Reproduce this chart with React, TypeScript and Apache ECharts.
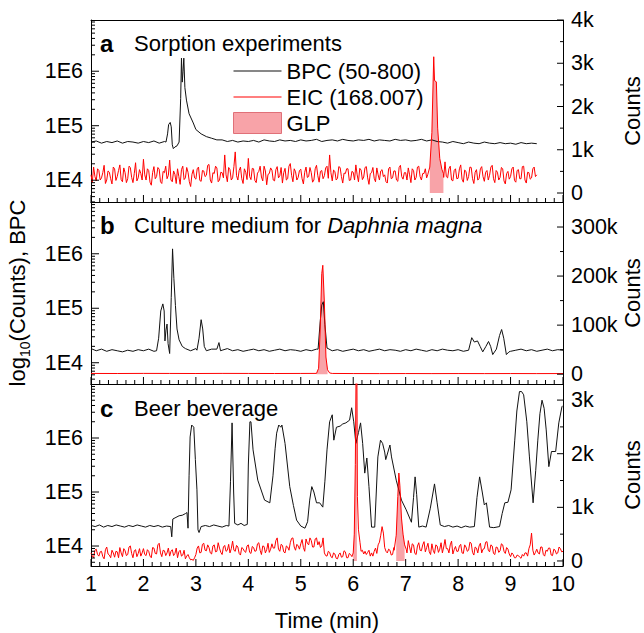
import React, { useEffect, useRef } from 'react';
import * as echarts from 'echarts';

const FONT = "'Liberation Sans', Arial, Helvetica, sans-serif";
const BLACK = '#111111';
const RED = '#ff0000';
const PINK = '#f8a3a8';
const LINE_ICON = 'path://M0,0h48v1.2h-48z';

// ---------- data ----------
const panelTitles = ['Sorption experiments', 'Culture medium for ', 'Beer beverage'];
const panelLetters = ['a', 'b', 'c'];
const legendNames = ['BPC (50-800)', 'EIC (168.007)', 'GLP'];

// BPC (log10 counts), panel a: baseline sampled every 0.1 min from 1.0 to 9.5
const bpcABase = [
  4.70, 4.72, 4.68, 4.71, 4.69, 4.72, 4.68, 4.71, 4.70, 4.68,
  4.71, 4.69, 4.72, 4.68, 4.71, 4.70, 4.70, 4.70, 4.70, 4.70,
  4.93, 4.85, 4.80, 4.77, 4.74, 4.74, 4.71, 4.73, 4.70, 4.72,
  4.71, 4.73, 4.70, 4.74, 4.72, 4.71, 4.74, 4.72, 4.73, 4.71,
  4.74, 4.72, 4.73, 4.75, 4.71, 4.73, 4.74, 4.72, 4.75, 4.73,
  4.72, 4.74, 4.73, 4.75, 4.72, 4.74, 4.73, 4.72, 4.75, 4.73,
  4.74, 4.72, 4.73, 4.75, 4.72, 4.74, 4.71, 4.70, 4.68, 4.71,
  4.69, 4.67, 4.70, 4.68, 4.67, 4.70, 4.68, 4.67, 4.69, 4.67,
  4.68, 4.66, 4.69, 4.67, 4.68, 4.67,
];
const bpcAPeaks = [
  [[2.43, 4.70], [2.46, 4.85], [2.48, 5.02], [2.51, 5.06], [2.53, 4.98], [2.55, 4.65], [2.57, 4.58],
   [2.60, 4.61], [2.64, 4.63], [2.68, 4.70], [2.71, 5.5], [2.725, 6.24], [2.74, 5.8], [2.755, 6.0],
   [2.77, 6.24], [2.79, 5.7], [2.82, 5.47], [2.87, 5.22], [2.95, 5.05]],
];

// EIC (counts), panel a: every 0.025 min from 1.000 to 9.500
const eicAValues = [
  420, 250, 600, 380, 280, 560, 520, 300, 350, 470, 640, 220, 300, 510, 480, 330, 210, 600, 560, 290,
  380, 520, 650, 310, 260, 580, 470, 240, 330, 620, 590, 360, 240, 450, 700, 280, 350, 540, 450, 300,
  780, 420, 300, 560, 520, 250, 180, 470, 610, 330, 380, 590, 550, 260, 220, 500, 470, 620, 330, 410,
  760, 300, 260, 510, 430, 220, 560, 380, 200, 540, 620, 310, 350, 590, 480, 260, 150, 430, 540, 350,
  320, 560, 600, 290, 270, 520, 510, 380, 410, 640, 660, 300, 230, 470, 450, 620, 580, 260, 300, 480,
  470, 350, 880, 420, 260, 590, 540, 300, 350, 610, 950, 400, 300, 520, 600, 330, 220, 560, 480, 310,
  800, 380, 310, 570, 560, 290, 240, 460, 500, 620, 370, 280, 620, 510, 190, 430, 450, 580, 530, 300,
  280, 540, 610, 350, 400, 590, 230, 470, 570, 300, 330, 620, 680, 410, 260, 560, 490, 300, 360, 520,
  550, 330, 210, 480, 600, 360, 380, 590, 470, 250, 300, 560, 640, 400, 250, 500, 520, 330, 400, 580,
  620, 340, 880, 470, 280, 530, 500, 300, 340, 610, 590, 380, 230, 460, 450, 560, 560, 290, 300, 500,
  480, 300, 650, 420, 260, 570, 530, 310, 370, 590, 610, 350, 200, 450, 470, 590, 340, 260, 580, 420,
  300, 510, 540, 380, 420, 260, 230, 560, 600, 330, 350, 510, 510, 300, 270, 590, 640, 380, 320, 470,
  470, 300, 580, 420, 240, 560, 520, 300, 360, 600, 620, 380, 300, 450, 450, 560, 350, 300, 480, 420,
  420, 560, 480, 300, 520, 610, 380, 450, 520, 360, 720, 380, 350, 560, 620, 300, 280, 520, 560, 330,
  340, 560, 650, 320, 250, 530, 500, 290, 380, 600, 590, 330, 220, 480, 540, 300, 330, 560, 610, 380,
  270, 480, 520, 300, 410, 600, 640, 330, 240, 520, 480, 300, 360, 590, 560, 280, 210, 450, 500, 320,
  380, 560, 600, 290, 250, 520, 540, 330, 330, 610, 620, 300, 230, 480, 470, 320, 350, 560, 600, 380,
  420,
];
const eicAPeaks = [
  [[7.42, 420], [7.46, 600], [7.50, 1400], [7.535, 3150], [7.55, 2600], [7.585, 2570], [7.61, 1500],
   [7.65, 800], [7.69, 550], [7.72, 450]],
];
const glpAWindows = [[7.44, 7.72]];

// BPC (log10 counts), panel b: baseline every 0.1 min from 1.0 to 10.0
const bpcBBase = [
  4.26, 4.22, 4.25, 4.21, 4.24, 4.22, 4.20, 4.23, 4.21, 4.24,
  4.22, 4.25, 4.21, 4.24, 4.22, 4.24, 4.23, 4.25, 4.23, 4.22,
  4.26, 4.24, 4.22, 4.25, 4.21, 4.23, 4.26, 4.22, 4.24, 4.21,
  4.23, 4.25, 4.22, 4.24, 4.21, 4.23, 4.25, 4.22, 4.24, 4.23,
  4.21, 4.24, 4.22, 4.25, 4.23, 4.25, 4.22, 4.24, 4.21, 4.23,
  4.25, 4.22, 4.24, 4.21, 4.23, 4.25, 4.22, 4.24, 4.23, 4.21,
  4.24, 4.22, 4.25, 4.23, 4.21, 4.24, 4.22, 4.25, 4.23, 4.22,
  4.24, 4.21, 4.23, 4.25, 4.22, 4.24, 4.23, 4.25, 4.22, 4.24,
  4.21, 4.23, 4.25, 4.22, 4.24, 4.21, 4.23, 4.25, 4.22, 4.24,
  4.23,
];
const bpcBPeaks = [
  [[2.25, 4.22], [2.29, 4.45], [2.33, 4.95], [2.37, 5.08], [2.395, 4.95], [2.41, 4.40], [2.43, 4.60],
   [2.45, 4.71], [2.47, 4.35], [2.50, 4.17], [2.53, 5.20], [2.555, 6.09], [2.58, 5.55], [2.61, 5.05],
   [2.64, 4.62], [2.68, 4.42], [2.74, 4.30], [2.80, 4.26]],
  [[3.02, 4.23], [3.06, 4.45], [3.10, 4.79], [3.13, 4.62], [3.16, 4.30], [3.20, 4.22]],
  [[3.40, 4.25], [3.44, 4.37], [3.47, 4.22]],
  [[5.33, 4.25], [5.37, 4.75], [5.40, 5.06], [5.43, 5.12], [5.46, 4.70], [5.50, 4.27]],
  [[8.20, 4.23], [8.26, 4.46], [8.31, 4.38], [8.37, 4.40], [8.42, 4.30], [8.47, 4.20], [8.53, 4.30],
   [8.58, 4.39], [8.62, 4.30], [8.66, 4.15], [8.73, 4.25], [8.79, 4.50], [8.83, 4.61], [8.87, 4.45],
   [8.92, 4.15], [8.97, 4.20]],
];

// EIC (counts), panel b
const eicBPoints = [
  [1.0, 1500], [1.5, 1400], [2.0, 1600], [2.5, 1500], [3.0, 1400], [3.5, 1600], [4.0, 1500],
  [4.5, 1400], [5.0, 1500], [5.30, 1600], [5.34, 12000], [5.37, 90000], [5.40, 205000],
  [5.42, 222000], [5.45, 145000], [5.48, 35000], [5.51, 9000], [5.55, 2500], [5.6, 1500],
  [6.0, 1300], [6.5, 1200], [7.0, 1300], [7.5, 1200], [8.0, 1300], [8.5, 1200], [9.0, 1300],
  [9.5, 1200], [10.0, 1300],
];
const glpBWindows = [[5.30, 5.52]];

// BPC (log10 counts), panel c
const bpcCPoints = [
  [1.00, 4.38], [1.08, 4.36], [1.16, 4.39], [1.24, 4.35], [1.32, 4.38], [1.40, 4.36], [1.48, 4.39],
  [1.56, 4.37], [1.64, 4.35], [1.72, 4.38], [1.80, 4.36], [1.88, 4.39], [1.96, 4.37], [2.04, 4.35],
  [2.12, 4.38], [2.20, 4.36], [2.28, 4.38], [2.36, 4.35], [2.44, 4.37], [2.52, 4.36], [2.54, 4.17],
  [2.56, 4.50], [2.62, 4.53], [2.68, 4.56], [2.74, 4.57], [2.80, 4.60], [2.83, 4.62], [2.85, 4.33],
  [2.87, 5.3], [2.89, 6.02], [2.92, 6.24], [2.96, 6.20], [2.99, 5.60], [3.02, 5.04], [3.04, 4.30],
  [3.06, 4.25], [3.10, 4.36], [3.18, 4.38], [3.26, 4.36], [3.34, 4.39], [3.42, 4.37], [3.50, 4.35],
  [3.58, 4.38], [3.63, 4.37], [3.66, 5.2], [3.69, 6.28], [3.72, 5.0], [3.74, 4.42], [3.80, 4.39],
  [3.86, 4.42], [3.92, 4.38], [3.98, 4.40], [4.00, 5.5], [4.03, 6.30], [4.05, 6.30], [4.09, 5.78],
  [4.18, 5.22], [4.31, 4.85], [4.41, 4.80], [4.47, 5.30], [4.51, 5.80], [4.54, 6.09], [4.58, 6.24],
  [4.62, 6.20], [4.64, 6.24], [4.70, 5.90], [4.79, 5.10], [4.86, 4.75], [4.92, 4.48], [5.00, 4.37],
  [5.08, 4.33], [5.13, 4.45], [5.17, 4.85], [5.21, 5.10], [5.25, 5.00], [5.30, 4.80], [5.36, 4.80],
  [5.42, 4.72], [5.46, 5.20], [5.50, 5.78], [5.55, 6.30], [5.60, 6.43], [5.63, 5.96], [5.68, 6.20],
  [5.75, 6.22], [5.80, 6.26], [5.86, 6.28], [5.93, 6.33], [5.97, 6.56], [6.01, 6.30], [6.05, 5.90],
  [6.10, 6.10], [6.14, 6.28], [6.18, 5.90], [6.22, 5.35], [6.26, 5.63], [6.30, 5.10], [6.35, 4.35],
  [6.41, 4.35], [6.47, 5.65], [6.52, 5.96], [6.56, 5.90], [6.60, 5.74], [6.62, 5.60], [6.70, 5.87],
  [6.73, 5.65], [6.82, 5.22], [6.92, 4.85], [7.01, 4.67], [7.11, 4.44], [7.15, 4.90], [7.18, 5.28],
  [7.21, 4.95], [7.25, 4.35], [7.32, 4.37], [7.39, 4.35], [7.47, 4.70], [7.55, 5.15], [7.60, 4.80],
  [7.66, 4.39], [7.74, 4.36], [7.82, 4.38], [7.90, 4.35], [7.98, 4.37], [8.06, 4.34], [8.14, 4.37],
  [8.22, 4.35], [8.31, 4.36], [8.36, 4.90], [8.41, 5.28], [8.46, 5.00], [8.50, 4.76], [8.54, 4.80],
  [8.60, 4.35], [8.68, 4.34], [8.79, 4.36], [8.84, 4.60], [8.89, 4.80], [8.95, 4.81], [9.01, 5.04],
  [9.08, 5.96], [9.12, 6.50], [9.17, 6.86], [9.21, 6.86], [9.25, 6.80], [9.31, 6.30], [9.36, 5.65],
  [9.43, 4.80], [9.48, 5.40], [9.52, 5.96], [9.56, 6.45], [9.60, 6.70], [9.64, 6.55], [9.68, 6.15],
  [9.73, 5.47], [9.78, 5.75], [9.86, 5.75], [9.92, 6.28], [9.98, 6.58], [10.00, 6.60],
];

// EIC (counts), panel c: every 0.025 min from 1.000 to 10.000
const eicCValues = [
  150, 90, 60, 200, 220, 120, 90, 170, 180, 80, 40, 210, 260, 130, 110, 60, 200, 150, 70, 180,
  170, 60, 250, 150, 80, 230, 190, 100, 120, 260, 280, 140, 60, 190, 210, 80, 140, 230, 90, 150,
  230, 120, 100, 210, 180, 90, 60, 250, 240, 140, 130, 300, 330, 150, 80, 200, 190, 100, 150, 240,
  90, 180, 210, 100, 140, 240, 60, 170, 200, 90, 110, 200, 40, 90, 120, 60, 20, 30, 10, 60,
  120, 240, 280, 150, 160, 310, 330, 200, 190, 300, 250, 150, 130, 280, 300, 170, 180, 340, 240, 160,
  120, 260, 290, 180, 200, 310, 150, 230, 370, 200, 180, 290, 260, 140, 110, 250, 230, 180, 160, 280,
  300, 160, 140, 270, 250, 180, 190, 320, 340, 200, 120, 280, 270, 150, 210, 330, 160, 220, 320, 240,
  240, 380, 430, 220, 180, 310, 290, 170, 150, 280, 260, 200, 340, 420, 430, 260, 200, 310, 280, 220,
  320, 400, 250, 180, 410, 330, 300, 430, 380, 260, 260, 410, 430, 300, 360, 250, 280, 430, 150, 100,
  90, 180, 160, 80, 60, 150, 130, 50, 40, 120, 150, 70, 80, 190, 170, 60, 60, 140, 120, 80,
  150, 300, 500, 300, 300, 200, 150, 200, 130, 180, 120, 160, 200, 90, 150, 90, 180, 240, 140, 300,
  350, 480, 640, 520, 250, 180, 150, 220, 200, 110, 120, 250, 230, 150, 200, 260, 180, 140, 220, 190,
  200, 150, 380, 260, 150, 320, 300, 140, 120, 280, 340, 200, 190, 300, 360, 170, 250, 330, 170, 120,
  320, 200, 140, 300, 280, 160, 220, 340, 150, 260, 400, 230, 230, 150, 300, 370, 130, 210, 270, 180,
  180, 280, 310, 150, 140, 300, 260, 180, 200, 350, 330, 160, 110, 260, 240, 150, 280, 330, 150, 220,
  230, 350, 360, 200, 170, 300, 280, 140, 120, 260, 250, 160, 190, 320, 300, 180, 140, 250, 220, 130,
  80, 150, 120, 60, 60, 110, 100, 70, 50, 120, 90, 150, 150, 90, 230, 300, 520, 200, 110, 160,
  220, 150, 130, 260, 260, 120, 90, 200, 180, 240, 240, 110, 100, 220, 200, 130, 150, 260, 230, 170,
  180,
];
const eicCPeaks = [
  [[6.00, 150], [6.02, 500], [6.04, 1800], [6.055, 3600], [6.07, 3600], [6.08, 1200], [6.10, 580],
   [6.13, 340], [6.15, 180]],
  [[6.78, 200], [6.82, 480], [6.85, 1200], [6.87, 1640], [6.89, 1400], [6.92, 800], [6.95, 500],
   [6.98, 300], [7.01, 220]],
];
const glpCWindows = [[6.0, 6.075], [6.82, 6.98]];

// axis ranges / ticks
const timeRange = [1, 10];
const logRanges = [[3.6, 6.94], [3.61, 6.95], [3.63, 7.0]];
const logMajor = [4, 5, 6];
const logMinorFactors = [2, 3, 4, 5, 6, 7, 8, 9];
const countRanges = [[-208, 4000], [-20000, 351000], [-94, 3300]];
const countMajor = [[0, 1000, 2000, 3000, 4000], [0, 100000, 200000, 300000], [0, 1000, 2000, 3000]];
const countMinor = [[500, 1500, 2500, 3500], [50000, 150000, 250000], [500, 1500, 2500]];
const timeMajor = [1, 2, 3, 4, 5, 6, 7, 8, 9, 10];
const timeMinorPerMajor = 6;

// layout
const GRID_LEFT = 91;
const GRID_RIGHT = 81;
const GRID_TOPS = [20, 202, 384];
const GRID_H = 182;
const CHART_W = 644;
const CHART_H = 633;
const PLOT_W = CHART_W - GRID_LEFT - GRID_RIGHT;

// ---------- helpers ----------
function sampled(t0: number, step: number, vals: number[], segments: number[][][]): number[][] {
  let pts: number[][] = vals.map((v, i) => [Math.round((t0 + i * step) * 1000) / 1000, v]);
  for (const seg of segments) {
    const lo = seg[0][0];
    const hi = seg[seg.length - 1][0];
    pts = pts.filter((p) => p[0] < lo || p[0] > hi).concat(seg);
  }
  return pts.sort((a, b) => a[0] - b[0]);
}
function inWindow(pts: number[][], w: number[]) {
  return pts.filter((p) => p[0] >= w[0] && p[0] <= w[1]);
}
function kFmt(v: number) {
  return v === 0 ? '0' : `${Math.round(v / 1000)}k`;
}

// tick marks as short segments of a line series, positioned by the axes' scales
const GAP = ['-', '-'];
function xTickData(ymin: number, ymax: number) {
  const perPx = (ymax - ymin) / GRID_H;
  const out: any[] = [];
  timeMajor.forEach((t, k) => {
    out.push([t, ymin], [t, ymin + 7 * perPx], GAP);
    if (k < timeMajor.length - 1) {
      for (let j = 1; j < timeMinorPerMajor; j++) {
        const tm = t + j / timeMinorPerMajor;
        out.push([tm, ymin], [tm, ymin + 4 * perPx], GAP);
      }
    }
  });
  return out;
}
function yTickData(side: 'left' | 'right', ticks: number[][]) {
  const perPx = (timeRange[1] - timeRange[0]) / PLOT_W;
  const out: any[] = [];
  ticks.forEach(([v, len]) => {
    if (side === 'left') out.push([timeRange[0], v], [timeRange[0] + len * perPx, v], GAP);
    else out.push([timeRange[1], v], [timeRange[1] - len * perPx, v], GAP);
  });
  return out;
}
function tickLine(xIdx: number, yIdx: number, data: any[]) {
  return {
    type: 'line', xAxisIndex: xIdx, yAxisIndex: yIdx, data, symbol: 'none', silent: true,
    connectNulls: false, clip: false, z: 5,
    lineStyle: { color: '#000', width: 1 }, itemStyle: { color: '#000' },
  };
}

const TICK_FONT = 21.5;
const TEXT_FONT = 22;

const App: React.FC = () => {
  const ref = useRef<HTMLDivElement>(null);
  useEffect(() => {
    if (!ref.current) return;
    const chart = echarts.init(ref.current, undefined, { renderer: 'svg' });

    const bpc = [
      sampled(1.0, 0.1, bpcABase, bpcAPeaks),
      sampled(1.0, 0.1, bpcBBase, bpcBPeaks),
      bpcCPoints,
    ];
    const eic = [
      sampled(1.0, 0.025, eicAValues, eicAPeaks),
      eicBPoints,
      sampled(1.0, 0.025, eicCValues, eicCPeaks),
    ];
    const glpWins = [glpAWindows, glpBWindows, glpCWindows];

    const grids: any[] = GRID_TOPS.map((top) => ({
      left: GRID_LEFT, right: GRID_RIGHT, top, height: GRID_H, show: false,
      containLabel: false, outerBoundsMode: 'none',
    }));

    const xAxes: any[] = [];
    [0, 1, 2].forEach((i) => {
      xAxes.push({
        type: 'value', gridIndex: i, position: 'bottom', min: timeRange[0], max: timeRange[1], interval: 1,
        axisLine: { show: true, onZero: false, lineStyle: { color: '#000', width: 1 } },
        axisTick: { show: false },
        axisLabel: { show: i === 2, fontSize: TICK_FONT, color: '#000', margin: 7, fontFamily: FONT },
        splitLine: { show: false },
        name: i === 2 ? 'Time (min)' : '',
        nameLocation: 'middle', nameGap: 43, nameMoveOverlap: false,
        nameTextStyle: { fontSize: TEXT_FONT, color: '#000', fontFamily: FONT },
      });
    });
    [0, 1, 2].forEach((i) => {
      xAxes.push({
        type: 'value', gridIndex: i, position: 'top', min: timeRange[0], max: timeRange[1],
        axisLine: { show: true, onZero: false, lineStyle: { color: '#000', width: 1 } },
        axisTick: { show: false }, axisLabel: { show: false }, splitLine: { show: false },
      });
    });

    const yAxes: any[] = [];
    for (let i = 0; i < 3; i++) {
      const [lmin, lmax] = logRanges[i];
      const [cmin, cmax] = countRanges[i];
      yAxes.push({
        type: 'value', gridIndex: i, position: 'left', min: lmin, max: lmax,
        axisLine: { show: true, onZero: false, lineStyle: { color: '#000' } },
        axisTick: { show: false },
        axisLabel: {
          customValues: logMajor, formatter: (v: number) => `1E${Math.round(v)}`,
          fontSize: TICK_FONT, color: '#000', margin: 8, fontFamily: FONT,
        },
        splitLine: { show: false },
        name: i === 1 ? '{n|log}{s|10}{n|(Counts), BPC}' : '',
        nameLocation: 'middle', nameGap: 59, nameRotate: 90, nameMoveOverlap: false,
        nameTextStyle: {
          color: '#000', fontFamily: FONT, fontSize: TEXT_FONT,
          rich: {
            n: { fontSize: TEXT_FONT, color: '#000', fontFamily: FONT, lineHeight: 30 },
            s: { fontSize: 14, color: '#000', fontFamily: FONT, verticalAlign: 'bottom' },
          },
        },
      });
      yAxes.push({
        type: 'value', gridIndex: i, position: 'right', min: cmin, max: cmax,
        axisLine: { show: true, onZero: false, lineStyle: { color: '#000' } },
        axisTick: { show: false },
        axisLabel: {
          customValues: countMajor[i], formatter: kFmt,
          fontSize: TICK_FONT, color: '#000', margin: 8, fontFamily: FONT,
        },
        splitLine: { show: false },
        name: 'Counts', nameLocation: 'middle', nameGap: 58, nameRotate: 90, nameMoveOverlap: false,
        nameTextStyle: { color: '#000', fontFamily: FONT, fontSize: TEXT_FONT },
      });
    }

    const series: any[] = [];
    for (let i = 0; i < 3; i++) {
      const [lmin, lmax] = logRanges[i];
      const leftTicks: number[][] = logMajor.map((v) => [v, 8]);
      [3, 4, 5, 6].forEach((e) =>
        logMinorFactors.forEach((k) => {
          const v = e + Math.log10(k);
          if (v > lmin && v < lmax) leftTicks.push([v, 4]);
        })
      );
      const rightTicks: number[][] = countMajor[i].map((v) => [v, 6]).concat(countMinor[i].map((v) => [v, 3]));

      glpWins[i].forEach((w) => {
        series.push({
          name: 'GLP', type: 'line', xAxisIndex: i, yAxisIndex: 2 * i + 1,
          data: inWindow(eic[i], w), symbol: 'none', silent: true,
          lineStyle: { width: 0, color: PINK }, itemStyle: { color: PINK },
          areaStyle: { color: PINK, opacity: 1 }, z: 1,
        });
      });
      series.push({
        name: 'BPC (50-800)', type: 'line', xAxisIndex: i, yAxisIndex: 2 * i,
        data: bpc[i], symbol: 'none', lineStyle: { width: 1, color: BLACK },
        itemStyle: { color: BLACK }, z: 2,
      });
      series.push({
        name: 'EIC (168.007)', type: 'line', xAxisIndex: i, yAxisIndex: 2 * i + 1,
        data: eic[i], symbol: 'none', lineStyle: { width: 1, color: RED },
        itemStyle: { color: RED }, z: 3,
      });
      series.push(tickLine(i, 2 * i, xTickData(lmin, lmax)));
      series.push(tickLine(i, 2 * i, yTickData('left', leftTicks)));
      series.push(tickLine(i, 2 * i + 1, yTickData('right', rightTicks)));
    }

    const titleYs = [43, 225, 408];
    const graphics: any[] = [];
    titleYs.forEach((y, i) => {
      graphics.push({
        type: 'text', x: 100, y, z: 10,
        style: { text: panelLetters[i], fontSize: 24, fontWeight: 'bold', fontFamily: FONT, fill: '#000', verticalAlign: 'middle' },
      });
      graphics.push({
        type: 'text', x: 134, y, z: 10,
        style: i === 1
          ? {
              text: `{n|${panelTitles[i]}}{it|Daphnia magna}`, fontFamily: FONT, fill: '#000', verticalAlign: 'middle',
              rich: {
                n: { fontSize: TEXT_FONT, fontFamily: FONT, fill: '#000' },
                it: { fontSize: TEXT_FONT, fontFamily: FONT, fill: '#000', fontStyle: 'italic' },
              },
            }
          : { text: panelTitles[i], fontSize: TEXT_FONT, fontFamily: FONT, fill: '#000', verticalAlign: 'middle' },
      });
    });

    chart.setOption({
      animation: false,
      backgroundColor: '#ffffff',
      textStyle: { fontFamily: FONT },
      grid: grids,
      xAxis: xAxes,
      yAxis: yAxes,
      legend: {
        orient: 'vertical', left: 228, top: 55, itemWidth: 48, itemHeight: 21, itemGap: 4,
        textStyle: { fontSize: TEXT_FONT, color: '#000', fontFamily: FONT },
        selectedMode: false,
        data: [
          { name: legendNames[0], icon: LINE_ICON, itemStyle: { color: BLACK, borderWidth: 0 } },
          { name: legendNames[1], icon: LINE_ICON, itemStyle: { color: RED, borderWidth: 0 } },
          { name: legendNames[2], icon: 'rect', itemStyle: { color: PINK, borderColor: '#e07078', borderWidth: 1 } },
        ],
      },
      graphic: graphics,
      series,
    });
    return () => chart.dispose();
  }, []);
  return <div ref={ref} style={{ position: 'fixed', left: 0, top: 0, width: CHART_W, height: CHART_H }} />;
};

export default App;
